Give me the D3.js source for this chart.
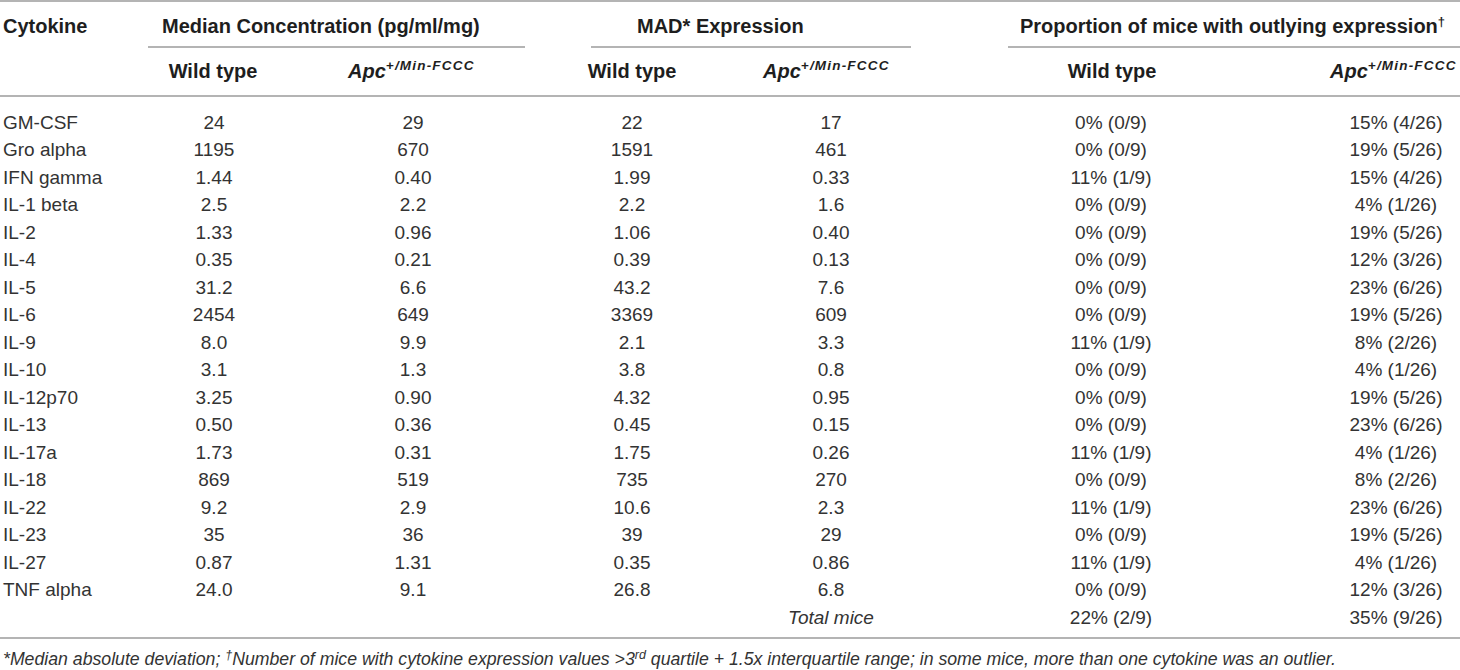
<!DOCTYPE html>
<html>
<head>
<meta charset="utf-8">
<script src="https://cdn.jsdelivr.net/npm/d3@7"></script>
<style>
  body { margin: 0; background: #fff; }
  svg { display: block; }
  text { font-family: "Liberation Sans", Arial, Helvetica, sans-serif; }
</style>
</head>
<body>
<svg id="chart" width="1460" height="670"></svg>
<script>
// Table values
const cytokines = ["GM-CSF", "Gro alpha", "IFN gamma", "IL-1 beta", "IL-2", "IL-4", "IL-5", "IL-6", "IL-9",
  "IL-10", "IL-12p70", "IL-13", "IL-17a", "IL-18", "IL-22", "IL-23", "IL-27", "TNF alpha"];
const medianWT  = ["24", "1195", "1.44", "2.5", "1.33", "0.35", "31.2", "2454", "8.0", "3.1", "3.25", "0.50", "1.73", "869", "9.2", "35", "0.87", "24.0"];
const medianApc = ["29", "670", "0.40", "2.2", "0.96", "0.21", "6.6", "649", "9.9", "1.3", "0.90", "0.36", "0.31", "519", "2.9", "36", "1.31", "9.1"];
const madWT     = ["22", "1591", "1.99", "2.2", "1.06", "0.39", "43.2", "3369", "2.1", "3.8", "4.32", "0.45", "1.75", "735", "10.6", "39", "0.35", "26.8"];
const madApc    = ["17", "461", "0.33", "1.6", "0.40", "0.13", "7.6", "609", "3.3", "0.8", "0.95", "0.15", "0.26", "270", "2.3", "29", "0.86", "6.8"];
// mice with outlying expression (out of 9 wild type / 26 Apc mice)
const outlierWT  = [0, 0, 1, 0, 0, 0, 0, 0, 1, 0, 0, 0, 1, 0, 1, 0, 1, 0];
const outlierApc = [4, 5, 4, 1, 5, 3, 6, 5, 2, 1, 5, 6, 1, 2, 6, 5, 1, 3];
const totalOutlier = [2, 9];
const miceCount = [9, 26];

const groupHeaders = ["Median Concentration (pg/ml/mg)", "MAD* Expression", "Proportion of mice with outlying expression"];
const subHeaders = ["Wild type", "Apc"];

// Layout
const width = 1460;
const textColor = "#1e1e1e";
const bodyColor = "#333";
const ruleColor = "#9b9b9b";
const groupLayout = [
  { textX: 162, x0: 148, x1: 525, wtX: 213, apcX: 348 },
  { textX: 637, x0: 591, x1: 911, wtX: 632, apcX: 763 },
  { textX: 1020, x0: 1008, x1: 1460, wtX: 1112, apcX: 1330 }
];

const svg = d3.select("#chart");

const columns = ["cytokine", "medianWT", "medianApc", "madWT", "madApc", "outWT", "outApc"];
const x = d3.scaleOrdinal().domain(columns).range([3, 214, 413, 632, 831, 1111, 1396]);

const pct = (k, n) => `${Math.round(100 * k / n)}% (${k}/${n})`;

const rows = cytokines.map((c, i) => ({
  cytokine: c,
  medianWT: medianWT[i],
  medianApc: medianApc[i],
  madWT: madWT[i],
  madApc: madApc[i],
  outWT: pct(outlierWT[i], miceCount[0]),
  outApc: pct(outlierApc[i], miceCount[1])
}));
rows.push({ madApc: "Total mice", outWT: pct(totalOutlier[0], miceCount[0]), outApc: pct(totalOutlier[1], miceCount[1]), total: true });

const y = d3.scalePoint().domain(d3.range(rows.length)).range([122, 617]);

// Rules
const rules = svg.append("g").attr("stroke", ruleColor).attr("stroke-width", 1.5);
[1, 96, 638].forEach(ry => {
  rules.append("line").attr("x1", 0).attr("x2", width).attr("y1", ry).attr("y2", ry);
});
rules.selectAll("line.group")
  .data(groupLayout)
  .join("line")
  .attr("class", "group")
  .attr("x1", d => d.x0).attr("x2", d => d.x1)
  .attr("y1", 47).attr("y2", 47);

// Header row 1
const head = svg.append("g").attr("fill", textColor).attr("font-weight", "bold").attr("font-size", 20);
head.append("text").attr("x", 3).attr("y", 26).attr("dy", "0.35em").text("Cytokine");
const gh = head.selectAll("text.group")
  .data(groupHeaders)
  .join("text")
  .attr("class", "group")
  .attr("x", (d, i) => groupLayout[i].textX)
  .attr("y", 26)
  .attr("dy", "0.35em")
  .text(d => d);
// dagger on the last group header
d3.select(gh.nodes()[2]).append("tspan").attr("dy", -7).attr("font-size", 13).text("†");

// Header row 2
groupLayout.forEach(g => {
  head.append("text")
    .attr("x", g.wtX).attr("y", 71).attr("dy", "0.35em")
    .attr("text-anchor", "middle")
    .text(subHeaders[0]);
  const apc = head.append("text")
    .attr("x", g.apcX).attr("y", 71).attr("dy", "0.35em")
    .attr("font-style", "italic");
  apc.append("tspan").text(subHeaders[1]);
  apc.append("tspan")
    .attr("dy", -8)
    .attr("font-size", 13.5)
    .attr("letter-spacing", 1.2)
    .text("+/Min-FCCC");
});

// Body
const body = svg.append("g").attr("fill", bodyColor).attr("font-size", 19);
const rowG = body.selectAll("g.row")
  .data(rows)
  .join("g")
  .attr("class", "row")
  .attr("transform", (d, i) => `translate(0,${y(i)})`);

rowG.selectAll("text")
  .data(d => columns.filter(c => d[c] !== undefined).map(c => ({ col: c, value: d[c], total: d.total })))
  .join("text")
  .attr("x", d => x(d.col))
  .attr("dy", "0.35em")
  .attr("text-anchor", d => d.col === "cytokine" ? "start" : "middle")
  .attr("font-style", d => d.total && d.col === "madApc" ? "italic" : null)
  .text(d => d.value);

// Footnote
const note = svg.append("text")
  .attr("x", 3).attr("y", 659).attr("dy", "0.35em")
  .attr("fill", bodyColor)
  .attr("font-size", 17.7)
  .attr("font-style", "italic");
note.append("tspan").text("*Median absolute deviation; ");
note.append("tspan").attr("dy", -6).attr("font-size", 12.5).text("†");
note.append("tspan").attr("dy", 6).text("Number of mice with cytokine expression values >3");
note.append("tspan").attr("dy", -6).attr("font-size", 12.5).text("rd");
note.append("tspan").attr("dy", 6).text(" quartile + 1.5x interquartile range; in some mice, more than one cytokine was an outlier.");
</script>
</body>
</html>
